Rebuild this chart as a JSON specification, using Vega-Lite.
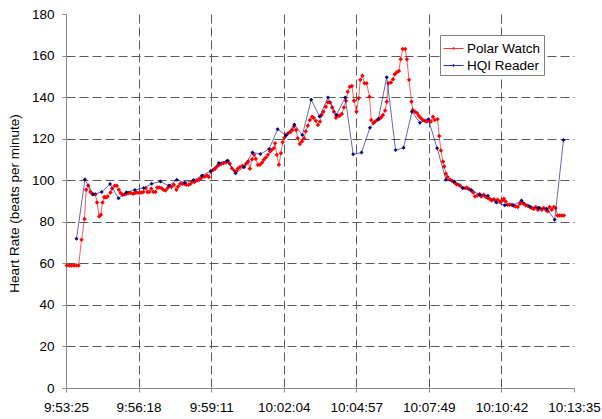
{
"$schema": "https://vega.github.io/schema/vega-lite/v6.json",
"width": 508, "height": 374,
"autosize": {"type": "none"},
"padding": {"left": 66, "top": 14, "right": 28, "bottom": 31},
"background": "white",
"config": {"view": {"stroke": null}, "font": "Liberation Sans"},
"datasets": {
"polar": [
{"t":2,"hr":59},{"t":8,"hr":59},{"t":13,"hr":59},{"t":19,"hr":59},{"t":25,"hr":59},{"t":30,"hr":59},{"t":37,"hr":71.3},{"t":44,"hr":81.3},{"t":48,"hr":95.4},{"t":53,"hr":97.5},{"t":58,"hr":94.3},{"t":63,"hr":93.3},{"t":70,"hr":93.3},{"t":74,"hr":89.3},{"t":79,"hr":82.5},{"t":83,"hr":83.4},{"t":87,"hr":89.3},{"t":91,"hr":91.9},{"t":95,"hr":91.7},{"t":99,"hr":92.2},{"t":106,"hr":94.1},{"t":110,"hr":96},{"t":116,"hr":97.3},{"t":121,"hr":97.3},{"t":126,"hr":95.4},{"t":130,"hr":93.8},{"t":135,"hr":93},{"t":140,"hr":93.3},{"t":144,"hr":93.5},{"t":149,"hr":93.8},{"t":154,"hr":93.8},{"t":160,"hr":93.5},{"t":164,"hr":93.8},{"t":169,"hr":94.1},{"t":174,"hr":93.8},{"t":179,"hr":94.1},{"t":184,"hr":94.3},{"t":190,"hr":96.2},{"t":194,"hr":94.3},{"t":198,"hr":94.3},{"t":203,"hr":95.9},{"t":208,"hr":94.3},{"t":213,"hr":94.3},{"t":217,"hr":96.5},{"t":222,"hr":96.5},{"t":227,"hr":96.2},{"t":232,"hr":95.4},{"t":237,"hr":95.1},{"t":242,"hr":96.2},{"t":247,"hr":97.3},{"t":251,"hr":96.7},{"t":257,"hr":97.8},{"t":263,"hr":95.4},{"t":267,"hr":97},{"t":272,"hr":98.3},{"t":277,"hr":98.3},{"t":282,"hr":98.3},{"t":286,"hr":97.8},{"t":292,"hr":97.8},{"t":297,"hr":98.3},{"t":301,"hr":99.4},{"t":306,"hr":99.1},{"t":312,"hr":99.9},{"t":317,"hr":100.2},{"t":321,"hr":101},{"t":326,"hr":101.8},{"t":331,"hr":101.8},{"t":336,"hr":102.3},{"t":340,"hr":101.5},{"t":345,"hr":104.2},{"t":351,"hr":105},{"t":355,"hr":105.5},{"t":360,"hr":106.6},{"t":365,"hr":107.4},{"t":370,"hr":107.9},{"t":375,"hr":108.2},{"t":381,"hr":108.5},{"t":386,"hr":109.3},{"t":390,"hr":107.9},{"t":395,"hr":105.8},{"t":401,"hr":104.5},{"t":405,"hr":104.2},{"t":409,"hr":105.5},{"t":414,"hr":106.3},{"t":420,"hr":106.9},{"t":424,"hr":106.7},{"t":429,"hr":107.9},{"t":434,"hr":109},{"t":438,"hr":105.5},{"t":443,"hr":110.1},{"t":448,"hr":112.2},{"t":452,"hr":110.3},{"t":457,"hr":107.4},{"t":462,"hr":107.4},{"t":467,"hr":108.5},{"t":471,"hr":109.8},{"t":476,"hr":110.9},{"t":481,"hr":112.2},{"t":486,"hr":113.8},{"t":490,"hr":114.6},{"t":495,"hr":115.4},{"t":498,"hr":117.8},{"t":502,"hr":112.2},{"t":507,"hr":107.4},{"t":512,"hr":113},{"t":516,"hr":118.3},{"t":520,"hr":120.5},{"t":524,"hr":121.8},{"t":529,"hr":122.6},{"t":534,"hr":123.1},{"t":539,"hr":124.2},{"t":543,"hr":125.8},{"t":548,"hr":124.2},{"t":552,"hr":120.2},{"t":557,"hr":117.4},{"t":562,"hr":118.6},{"t":567,"hr":120.2},{"t":571,"hr":123.4},{"t":576,"hr":126.2},{"t":581,"hr":129},{"t":586,"hr":130.6},{"t":590,"hr":130.1},{"t":595,"hr":128.6},{"t":600,"hr":126.6},{"t":605,"hr":128.2},{"t":609,"hr":131.4},{"t":613,"hr":133},{"t":619,"hr":135.4},{"t":624,"hr":137.5},{"t":629,"hr":137.4},{"t":634,"hr":135},{"t":638,"hr":133},{"t":643,"hr":130.1},{"t":648,"hr":131},{"t":652,"hr":131},{"t":657,"hr":131.9},{"t":662,"hr":135},{"t":667,"hr":138.2},{"t":671,"hr":142.6},{"t":676,"hr":145},{"t":681,"hr":145.4},{"t":686,"hr":138.2},{"t":692,"hr":133},{"t":697,"hr":139.5},{"t":701,"hr":148.3},{"t":706,"hr":150.3},{"t":711,"hr":146.7},{"t":716,"hr":146.7},{"t":723,"hr":140.2},{"t":727,"hr":129},{"t":732,"hr":127.5},{"t":736,"hr":128.2},{"t":741,"hr":129},{"t":746,"hr":129.5},{"t":751,"hr":130.3},{"t":755,"hr":131.4},{"t":760,"hr":133.5},{"t":764,"hr":137.8},{"t":768,"hr":146.7},{"t":774,"hr":147},{"t":779,"hr":148.6},{"t":783,"hr":151},{"t":788,"hr":152},{"t":793,"hr":152.6},{"t":797,"hr":158.2},{"t":802,"hr":163.2},{"t":808,"hr":163.2},{"t":812,"hr":158.2},{"t":817,"hr":148.3},{"t":823,"hr":137.8},{"t":826,"hr":133.8},{"t":831,"hr":133},{"t":836,"hr":132.3},{"t":840,"hr":131},{"t":845,"hr":129.9},{"t":850,"hr":129},{"t":855,"hr":128.6},{"t":859,"hr":128.2},{"t":864,"hr":129},{"t":869,"hr":128.2},{"t":874,"hr":130.6},{"t":878,"hr":129},{"t":885,"hr":129.4},{"t":889,"hr":121.3},{"t":893,"hr":114.3},{"t":898,"hr":109},{"t":901,"hr":106.6},{"t":905,"hr":103.1},{"t":909,"hr":101.5},{"t":915,"hr":100.2},{"t":920,"hr":99.6},{"t":925,"hr":98.9},{"t":930,"hr":98.1},{"t":935,"hr":97.8},{"t":939,"hr":97.3},{"t":945,"hr":96.2},{"t":951,"hr":96.2},{"t":955,"hr":96.5},{"t":960,"hr":95.7},{"t":965,"hr":95},{"t":970,"hr":94.1},{"t":974,"hr":92.2},{"t":980,"hr":92.6},{"t":985,"hr":93.3},{"t":989,"hr":92.2},{"t":995,"hr":93},{"t":1000,"hr":91.9},{"t":1005,"hr":91.4},{"t":1009,"hr":90.9},{"t":1014,"hr":90.2},{"t":1019,"hr":90.9},{"t":1024,"hr":90.1},{"t":1028,"hr":90.6},{"t":1034,"hr":89.8},{"t":1039,"hr":90.2},{"t":1043,"hr":91.1},{"t":1047,"hr":89.8},{"t":1052,"hr":88.2},{"t":1057,"hr":88.2},{"t":1062,"hr":88.2},{"t":1067,"hr":87.7},{"t":1071,"hr":87.4},{"t":1076,"hr":87.1},{"t":1081,"hr":88.7},{"t":1086,"hr":89.3},{"t":1090,"hr":88.7},{"t":1095,"hr":87.8},{"t":1100,"hr":87.7},{"t":1105,"hr":87.1},{"t":1109,"hr":86.6},{"t":1114,"hr":86.1},{"t":1119,"hr":87.1},{"t":1124,"hr":85.8},{"t":1128,"hr":86.6},{"t":1133,"hr":85.8},{"t":1138,"hr":86.6},{"t":1143,"hr":85.8},{"t":1147,"hr":85},{"t":1152,"hr":87.1},{"t":1157,"hr":85.8},{"t":1162,"hr":87.1},{"t":1166,"hr":86.6},{"t":1171,"hr":83},{"t":1176,"hr":83},{"t":1181,"hr":83},{"t":1186,"hr":83}
],
"hqi": [
{"t":25,"hr":71.8},{"t":45,"hr":100.3},{"t":65,"hr":93.2},{"t":85,"hr":94.3},{"t":105,"hr":98.2},{"t":125,"hr":91.3},{"t":144,"hr":94.2},{"t":164,"hr":95.3},{"t":185,"hr":96.3},{"t":204,"hr":98.3},{"t":225,"hr":99.4},{"t":245,"hr":97.3},{"t":264,"hr":100.2},{"t":283,"hr":98.8},{"t":304,"hr":100.1},{"t":324,"hr":102.3},{"t":345,"hr":104.4},{"t":364,"hr":108.3},{"t":384,"hr":109.4},{"t":404,"hr":103.4},{"t":424,"hr":106.3},{"t":444,"hr":113.4},{"t":463,"hr":112.6},{"t":484,"hr":115},{"t":504,"hr":124.5},{"t":524,"hr":121.5},{"t":544,"hr":126.8},{"t":563,"hr":121.8},{"t":584,"hr":138.7},{"t":604,"hr":130.7},{"t":624,"hr":139.8},{"t":644,"hr":131.4},{"t":665,"hr":139.8},{"t":684,"hr":112.5},{"t":704,"hr":113.3},{"t":724,"hr":125.3},{"t":744,"hr":129.5},{"t":764,"hr":149.6},{"t":785,"hr":114.5},{"t":804,"hr":115.6},{"t":824,"hr":133},{"t":843,"hr":127.7},{"t":863,"hr":129.4},{"t":884,"hr":115.4},{"t":905,"hr":100.2},{"t":925,"hr":99.4},{"t":945,"hr":96.2},{"t":965,"hr":95.4},{"t":986,"hr":93},{"t":1005,"hr":92.5},{"t":1025,"hr":89.3},{"t":1045,"hr":88},{"t":1065,"hr":88},{"t":1085,"hr":90.2},{"t":1105,"hr":87.4},{"t":1125,"hr":86.6},{"t":1145,"hr":86.3},{"t":1164,"hr":81},{"t":1185,"hr":119.4}
]
},
"encoding": {
  "x": {"field": "t", "type": "quantitative",
    "scale": {"domain": [0, 1210], "nice": false, "zero": false},
    "axis": {"values": [0, 172.857, 345.714, 518.571, 691.429, 864.286, 1037.143, 1210],
      "labelExpr": "['9:53:25','9:56:18','9:59:11','10:02:04','10:04:57','10:07:49','10:10:42','10:13:35'][round(datum.value/172.857)]",
      "title": null, "grid": true, "gridDash": [9, 4], "gridColor": "#5a5a5a",
      "gridOpacity": {"condition": {"test": "datum.value < 1 || datum.value > 1209", "value": 0}, "value": 1},
      "domainColor": "#868686", "tickColor": "#868686", "tickSize": 4, "labelPadding": 8,
      "labelFontSize": 13.5, "labelColor": "#000000", "labelFont": "Liberation Sans",
      "labelOverlap": false, "labelFlush": false}},
  "y": {"field": "hr", "type": "quantitative",
    "scale": {"domain": [0, 180], "nice": false, "zero": true},
    "axis": {"values": [0, 20, 40, 60, 80, 100, 120, 140, 160, 180],
      "title": "Heart Rate (beats per minute)", "titleFontSize": 13.5, "titleFontWeight": "normal",
      "titleColor": "#000000", "titleFont": "Liberation Sans", "titleX": -52, "titleY": 189, "titleBaseline": "middle", "titleAngle": -90,
      "grid": true, "gridDash": [9, 4], "gridColor": "#5a5a5a",
      "gridOpacity": {"condition": {"test": "datum.value < 1 || datum.value > 179", "value": 0}, "value": 1},
      "domainColor": "#868686", "tickColor": "#868686", "tickSize": 4, "labelPadding": 8,
      "labelFontSize": 13.5, "labelColor": "#000000", "labelFont": "Liberation Sans"}},
  "color": {"field": "s", "type": "nominal",
    "scale": {"domain": ["Polar Watch", "HQI Reader"], "range": ["#ff0000", "#000080"]},
    "legend": {"orient": "none", "legendX": 374, "legendY": 21, "title": null,
      "strokeColor": "#808080", "fillColor": "white", "padding": 3,
      "symbolType": "M-1,0L1,0M0,-0.13L0.13,0L0,0.13L-0.13,0Z", "symbolSize": 400, "symbolStrokeWidth": 1,
      "labelFontSize": 13.5, "labelFont": "Liberation Sans", "labelColor": "#000000", "labelOffset": 3, "rowPadding": 0}}
},
"layer": [
  {"data": {"name": "polar"}, "transform": [{"calculate": "'Polar Watch'", "as": "s"}], "mark": {"type": "line", "strokeWidth": 0.8, "opacity": 0.8}},
  {"data": {"name": "polar"}, "transform": [{"calculate": "'Polar Watch'", "as": "s"}], "mark": {"type": "point", "shape": "diamond", "filled": true, "size": 20, "opacity": 1}},
  {"data": {"name": "hqi"}, "transform": [{"calculate": "'HQI Reader'", "as": "s"}], "mark": {"type": "line", "strokeWidth": 0.8, "opacity": 0.75}},
  {"data": {"name": "hqi"}, "transform": [{"calculate": "'HQI Reader'", "as": "s"}], "mark": {"type": "point", "shape": "diamond", "filled": true, "size": 16, "opacity": 1}}
]
}
